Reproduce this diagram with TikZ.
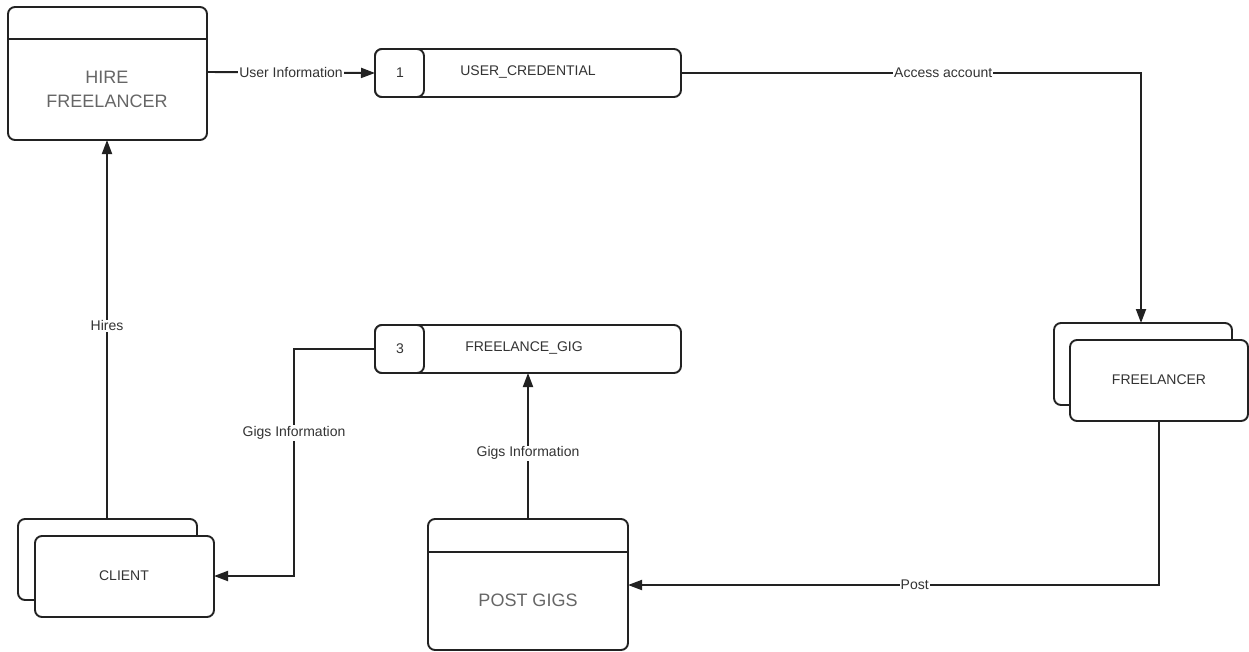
\documentclass[tikz,border=0pt]{standalone}
\usepackage{fontspec}
\setmainfont{Liberation Sans}
\usetikzlibrary{arrows.meta}
\definecolor{ink}{HTML}{222222}
\definecolor{txt}{HTML}{333333}
\definecolor{bigtxt}{HTML}{666666}
\begin{document}
\begin{tikzpicture}[x=1pt,y=-1pt,
  line width=1.9pt,
  box/.style={draw=ink, rounded corners=7pt, fill=white},
  small/.style={font=\fontsize{14}{16}\selectfont, text=txt},
  big/.style={font=\fontsize{18}{24}\selectfont, text=bigtxt, align=center},
  lbl/.style={small, fill=white, inner sep=1pt},
  flow/.style={draw=ink, -{Triangle[length=14pt,width=10pt]}},
  plain/.style={draw=ink}]
\useasboundingbox (0,0) rectangle (1249,651);

% Process: HIRE FREELANCER
\draw[box] (8,7) rectangle (207,140);
\draw[plain] (8,39) -- (207,39);
\node[big] (hire) at (107,89) {HIRE\\FREELANCER};
\coordinate (hireR) at (207,72);
\coordinate (hireB) at (107,140);

% Process: POST GIGS
\draw[box] (428,519) rectangle (628,650);
\draw[plain] (428,552) -- (628,552);
\node[big] (post) at (528,600) {POST GIGS};
\coordinate (postT) at (528,519);
\coordinate (postR) at (628,585);

% Data store 1: USER_CREDENTIAL
\draw[box] (375,49) rectangle (681,97);
\draw[box] (375,49) rectangle (424,97);
\node[small] (d1) at (400,73) {1};
\node[small] (cred) at (528,72) {USER\_CREDENTIAL};
\coordinate (credL) at (375,73);
\coordinate (credR) at (681,73);

% Data store 3: FREELANCE_GIG
\draw[box] (375,325) rectangle (681,373);
\draw[box] (375,325) rectangle (424,373);
\node[small] (d3) at (400,349) {3};
\node[small] (gig) at (524,348) {FREELANCE\_GIG};
\coordinate (gigL) at (375,349);
\coordinate (gigB) at (528,373);

% External entity: FREELANCER (stacked)
\draw[box] (1054,323) rectangle (1232,405);
\draw[box] (1070,340) rectangle (1248,421);
\node[small] (freel) at (1159,380) {FREELANCER};
\coordinate (freelT) at (1141,323);
\coordinate (freelB) at (1159,421);

% External entity: CLIENT (stacked)
\draw[box] (18,519) rectangle (197,600);
\draw[box] (35,536) rectangle (214,617);
\node[small] (client) at (124,576) {CLIENT};
\coordinate (clientT) at (107,519);
\coordinate (clientR) at (214,576);

% Data flows
\draw[flow] (hireR) -- node[lbl] {User Information} (credL);
\draw[flow] (credR) -- node[lbl, pos=0.57] {Access account} (1141,73) -- (freelT);
\draw[flow] (freelB) -- (1159,585) -- node[lbl, pos=0.46] {Post} (postR);
\draw[flow] (postT) -- node[lbl, pos=0.45] {Gigs Information} (gigB);
\draw[flow] (gigL) -- (294,349) -- node[lbl, pos=0.37] {Gigs Information} (294,576) -- (clientR);
\draw[flow] (clientT) -- node[lbl, pos=0.51] {Hires} (hireB);
\end{tikzpicture}
\end{document}
